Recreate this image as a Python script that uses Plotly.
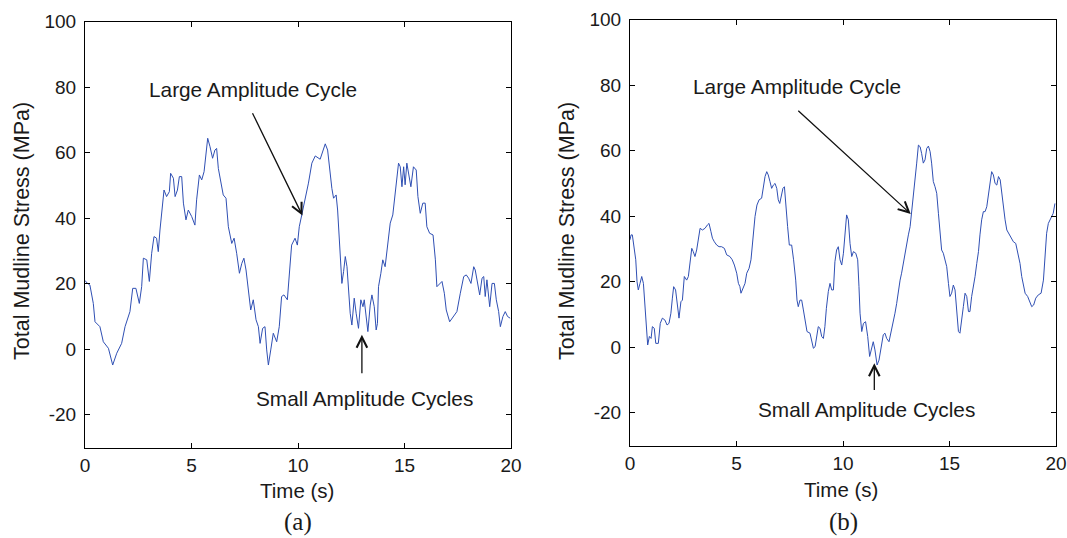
import plotly.graph_objects as go

# ---------------- data ----------------
time_a = [0.00, 0.10, 0.23, 0.39, 0.47, 0.70, 0.86, 1.10, 1.30, 1.49,
          1.72, 1.88, 2.11, 2.24, 2.39, 2.55, 2.66, 2.74, 2.90, 3.02,
          3.13, 3.24, 3.36, 3.44, 3.52, 3.65, 3.71, 3.83, 3.96, 4.02,
          4.15, 4.23, 4.34, 4.43, 4.54, 4.62, 4.74, 4.85, 5.01, 5.16,
          5.24, 5.37, 5.48, 5.59, 5.68, 5.76, 5.87, 5.99, 6.10, 6.18,
          6.26, 6.37, 6.49, 6.62, 6.73, 6.89, 7.00, 7.12, 7.25, 7.36,
          7.46, 7.56, 7.67, 7.78, 7.90, 8.03, 8.14, 8.22, 8.34, 8.45,
          8.53, 8.61, 8.72, 8.84, 9.00, 9.12, 9.23, 9.34, 9.50, 9.59,
          9.70, 9.86, 9.97, 10.06, 10.18, 10.34, 10.49, 10.65, 10.81, 11.04,
          11.20, 11.28, 11.39, 11.48, 11.59, 11.67, 11.79, 11.86, 11.95, 12.01,
          12.06, 12.14, 12.22, 12.30, 12.37, 12.45, 12.53, 12.64, 12.73, 12.84,
          12.95, 13.05, 13.11, 13.20, 13.28, 13.39, 13.47, 13.58, 13.67, 13.73,
          13.78, 13.89, 13.98, 14.09, 14.17, 14.25, 14.33, 14.45, 14.56, 14.64,
          14.72, 14.80, 14.88, 14.96, 15.03, 15.11, 15.19, 15.30, 15.42, 15.55,
          15.63, 15.74, 15.86, 15.97, 16.05, 16.18, 16.34, 16.45, 16.52, 16.65,
          16.76, 16.87, 16.96, 17.12, 17.31, 17.46, 17.62, 17.78, 17.90, 18.01,
          18.12, 18.25, 18.32, 18.40, 18.53, 18.64, 18.72, 18.79, 18.87, 19.00,
          19.11, 19.22, 19.31, 19.42, 19.50, 19.62, 19.73, 19.84, 19.96]

stress_a = [21.0, 20.2, 19.6, 14.0, 8.4, 6.9, 2.3, 0.3, -4.8, -1.2,
            1.8, 6.9, 11.5, 18.6, 18.6, 14.0, 19.1, 27.8, 27.3, 20.7,
            29.3, 34.4, 33.9, 29.8, 36.4, 43.5, 48.6, 46.6, 48.1, 53.7,
            52.2, 46.6, 48.6, 52.7, 52.7, 44.6, 39.5, 42.5, 40.5, 37.9,
            45.6, 53.2, 51.7, 54.2, 60.8, 64.4, 61.8, 58.3, 60.8, 61.3,
            55.2, 50.7, 47.1, 46.1, 37.4, 32.3, 33.9, 29.3, 23.2, 26.2,
            27.8, 24.2, 17.1, 12.0, 15.1, 9.0, 6.9, 1.8, 6.4, 6.9,
            -0.2, -4.8, -0.2, 4.9, 2.3, 6.9, 16.1, 16.6, 15.1, 22.2,
            31.8, 33.9, 31.8, 37.4, 41.0, 45.6, 50.7, 56.8, 59.0, 58.0,
            60.8, 62.7, 60.8, 55.2, 49.1, 46.1, 47.1, 42.5, 31.8, 23.2,
            20.1, 23.7, 28.3, 25.2, 18.1, 11.0, 7.4, 15.6, 11.0, 6.4,
            15.1, 13.0, 15.1, 9.0, 5.4, 13.5, 16.6, 13.0, 5.9, 7.9,
            19.1, 23.2, 27.3, 25.2, 29.3, 34.9, 38.5, 41.0, 47.6, 52.7,
            56.8, 55.7, 49.6, 55.7, 50.2, 56.8, 53.7, 49.6, 55.7, 54.7,
            46.6, 41.5, 44.6, 44.6, 37.4, 35.4, 34.9, 27.3, 19.1, 20.1,
            20.7, 17.1, 12.0, 8.4, 10.0, 11.5, 17.1, 22.2, 22.7, 21.7,
            20.1, 25.2, 24.2, 21.2, 16.6, 21.7, 22.2, 16.1, 21.2, 13.0,
            20.1, 20.1, 15.1, 11.5, 6.9, 10.0, 11.5, 10.0, 9.5]

time_b = [0.00, 0.05, 0.11, 0.20, 0.27, 0.33, 0.39, 0.47, 0.55, 0.63,
          0.70, 0.77, 0.83, 0.91, 0.99, 1.05, 1.14, 1.21, 1.33, 1.42,
          1.52, 1.64, 1.74, 1.83, 1.92, 1.99, 2.05, 2.14, 2.21, 2.30,
          2.39, 2.46, 2.55, 2.66, 2.74, 2.82, 2.90, 2.97, 3.05, 3.13,
          3.21, 3.29, 3.40, 3.52, 3.63, 3.71, 3.80, 3.87, 3.96, 4.07,
          4.18, 4.30, 4.43, 4.54, 4.69, 4.80, 4.90, 5.01, 5.09, 5.16,
          5.21, 5.32, 5.40, 5.48, 5.59, 5.68, 5.74, 5.81, 5.87, 5.96,
          6.06, 6.18, 6.26, 6.34, 6.42, 6.49, 6.57, 6.65, 6.73, 6.81,
          6.89, 6.96, 7.03, 7.09, 7.18, 7.25, 7.31, 7.40, 7.48, 7.59,
          7.68, 7.78, 7.84, 7.90, 7.98, 8.06, 8.14, 8.22, 8.31, 8.45,
          8.53, 8.61, 8.69, 8.76, 8.84, 8.92, 9.00, 9.08, 9.15, 9.22,
          9.31, 9.39, 9.47, 9.55, 9.62, 9.70, 9.78, 9.86, 9.94, 10.02,
          10.10, 10.17, 10.25, 10.33, 10.41, 10.49, 10.60, 10.69, 10.75, 10.80,
          10.88, 10.96, 11.06, 11.16, 11.25, 11.34, 11.42, 11.50, 11.60, 11.69,
          11.78, 11.89, 11.97, 12.05, 12.16, 12.25, 12.36, 12.44, 12.52, 12.60,
          12.68, 12.75, 12.83, 12.91, 12.99, 13.07, 13.15, 13.22, 13.30, 13.38,
          13.46, 13.54, 13.62, 13.69, 13.77, 13.85, 13.93, 14.01, 14.09, 14.16,
          14.24, 14.32, 14.40, 14.48, 14.55, 14.63, 14.71, 14.79, 14.87, 14.95,
          15.02, 15.10, 15.18, 15.26, 15.34, 15.42, 15.49, 15.57, 15.65, 15.73,
          15.81, 15.89, 15.96, 16.04, 16.12, 16.20, 16.28, 16.36, 16.43, 16.51,
          16.59, 16.67, 16.75, 16.83, 16.91, 16.98, 17.06, 17.14, 17.22, 17.30,
          17.38, 17.45, 17.53, 17.61, 17.69, 17.85, 18.00, 18.11, 18.20, 18.31,
          18.39, 18.47, 18.55, 18.67, 18.78, 18.86, 18.95, 19.05, 19.17, 19.30,
          19.41, 19.49, 19.56, 19.64, 19.72, 19.87, 19.95]

stress_b = [32.8, 34.3, 34.3, 30.7, 26.7, 20.0, 17.5, 19.5, 21.6, 19.5,
            11.9, 4.3, 0.7, 3.3, 2.7, 6.3, 5.8, 1.2, 1.2, 7.3,
            8.9, 8.3, 6.8, 7.3, 10.4, 15.0, 18.5, 17.5, 13.9, 8.9,
            13.9, 14.4, 21.6, 20.5, 21.6, 26.7, 30.2, 29.2, 27.7, 29.7,
            33.3, 36.3, 35.8, 36.3, 37.3, 37.8, 35.3, 33.3, 32.2, 31.2,
            30.7, 30.7, 30.2, 28.2, 27.7, 26.7, 25.1, 22.6, 19.5, 18.5,
            16.5, 18.0, 19.5, 22.6, 24.1, 26.7, 30.7, 35.8, 39.9, 43.4,
            45.0, 45.5, 49.5, 52.1, 53.6, 52.6, 50.6, 48.5, 49.5, 50.0,
            48.5, 45.0, 43.9, 45.5, 48.5, 49.0, 42.9, 36.8, 31.2, 31.2,
            26.7, 20.5, 14.4, 12.4, 14.4, 14.4, 11.4, 7.8, 4.8, 4.3,
            2.2, -0.3, 0.2, 2.7, 6.3, 5.8, 3.3, 2.7, 6.3, 11.9,
            17.0, 19.5, 17.5, 17.5, 26.1, 29.7, 30.7, 26.7, 25.1, 28.7,
            35.8, 40.4, 38.9, 31.7, 27.7, 29.2, 28.7, 26.7, 18.5, 10.4,
            4.8, 7.3, 7.8, 3.3, -2.8, -0.8, 1.7, -0.8, -5.4, -3.9,
            0.2, 3.8, 4.3, 2.7, 1.7, 4.3, 7.3, 10.4, 13.4, 17.5,
            20.5, 22.6, 25.6, 28.2, 32.2, 34.3, 36.8, 40.9, 46.0, 50.0,
            56.2, 61.7, 61.2, 59.2, 56.2, 57.2, 60.7, 61.4, 59.7, 56.2,
            50.6, 49.0, 47.0, 40.9, 34.8, 29.7, 28.7, 26.7, 24.6, 19.5,
            15.5, 16.5, 19.0, 17.5, 11.4, 4.8, 4.3, 9.4, 12.4, 16.5,
            15.5, 10.9, 10.9, 15.5, 18.0, 21.6, 25.6, 29.2, 34.3, 38.9,
            41.4, 41.4, 42.9, 47.0, 50.6, 53.6, 52.6, 50.0, 49.5, 52.1,
            51.1, 47.0, 41.9, 38.9, 35.8, 33.8, 32.2, 31.7, 28.7, 25.6,
            21.6, 18.5, 16.5, 15.5, 13.4, 12.4, 12.9, 15.0, 16.0, 16.5,
            20.5, 27.7, 34.8, 37.8, 38.9, 40.9, 43.9]

x_ticks = [0, 5, 10, 15, 20]
x_tick_text = ["0", "5", "10", "15", "20"]
y_ticks = [-20, 0, 20, 40, 60, 80, 100]
y_tick_text = ["-20", "0", "20", "40", "60", "80", "100"]
x_title = "Time (s)"
y_title = "Total Mudline Stress (MPa)"
panel_labels = ["(a)", "(b)"]
large_label = "Large Amplitude Cycle"
small_label = "Small Amplitude Cycles"

# ---------------- figure ----------------
W, H = 1067, 538
FONT = "Liberation Sans, Arial, sans-serif"
SERIF = "Liberation Serif, Times New Roman, serif"
TXT = "#1a1a1a"
LINE = "#2f4fb3"

fig = go.Figure()
fig.add_trace(go.Scatter(x=time_a, y=stress_a, mode="lines",
                         line=dict(color=LINE, width=1), xaxis="x", yaxis="y",
                         showlegend=False, hoverinfo="skip"))
fig.add_trace(go.Scatter(x=time_b, y=stress_b, mode="lines",
                         line=dict(color=LINE, width=1), xaxis="x2", yaxis="y2",
                         showlegend=False, hoverinfo="skip"))

def xaxis_style(domain, anchor):
    return dict(domain=domain, anchor=anchor, range=[0, 20],
                tickmode="array", tickvals=x_ticks, ticktext=x_tick_text,
                ticks="inside", ticklen=5, tickcolor="black", showline=True,
                linecolor="black", linewidth=1, mirror="ticks", showgrid=False,
                zeroline=False, automargin=False,
                tickfont=dict(family=FONT, size=19, color=TXT),
                ticklabelstandoff=1)

def yaxis_style(domain, anchor):
    return dict(domain=domain, anchor=anchor, range=[-30, 100],
                tickmode="array", tickvals=y_ticks, ticktext=y_tick_text,
                ticks="inside", ticklen=5, tickcolor="black", showline=True,
                linecolor="black", linewidth=1, mirror="ticks", showgrid=False,
                zeroline=False, automargin=False,
                tickfont=dict(family=FONT, size=19, color=TXT),
                ticklabelstandoff=4)

fig.update_layout(
    template="none",
    width=W, height=H, autosize=False,
    margin=dict(l=0, r=0, t=0, b=0, pad=0),
    paper_bgcolor="white", plot_bgcolor="white",
    xaxis=xaxis_style([85 / W, 511 / W], "y"),
    yaxis=yaxis_style([1 - 447.6 / H, 1 - 21.6 / H], "x"),
    xaxis2=xaxis_style([630 / W, 1056 / W], "y2"),
    yaxis2=yaxis_style([1 - 445.6 / H, 1 - 19.6 / H], "x2"),
)

ann = []
def txt(x, y, s, size=20, family=FONT, angle=0):
    ann.append(dict(x=x / W, y=1 - y / H, xref="paper", yref="paper", text=s,
                    showarrow=False, textangle=angle, xanchor="center", yanchor="middle",
                    font=dict(family=family, size=size, color=TXT)))

# axis titles
txt(22, 231, y_title, size=21.5, angle=-90)
txt(567, 231, y_title, size=21.5, angle=-90)
txt(297, 490, x_title, size=20.5)
txt(841, 489, x_title, size=20.5)
# panel labels
txt(298, 522, panel_labels[0], size=25, family=SERIF)
txt(843, 522, panel_labels[1], size=25, family=SERIF)

# callout texts (data coords)
for xr, yr, x, y, s in [("x", "y", 7.91, 79.2, large_label),
                        ("x", "y", 13.13, -14.9, small_label),
                        ("x2", "y2", 7.84, 79.6, large_label),
                        ("x2", "y2", 11.10, -19.0, small_label)]:
    ann.append(dict(x=x, y=y, xref=xr, yref=yr, text=s, showarrow=False,
                    font=dict(family=FONT, size=20.8, color=TXT)))

# arrows: head (x, y) <- tail (ax, ay)
for xr, yr, x, y, ax, ay in [("x", "y", 10.21, 40.8, 7.83, 72.5),
                             ("x", "y", 13.00, 4.4, 13.00, -7.8),
                             ("x2", "y2", 13.18, 40.7, 7.83, 72.6),
                             ("x2", "y2", 11.47, -4.9, 11.47, -13.5)]:
    ann.append(dict(x=x, y=y, xref=xr, yref=yr, ax=ax, ay=ay, axref=xr, ayref=yr,
                    text="", showarrow=True, arrowhead=5, arrowsize=1.6,
                    arrowwidth=1.3, arrowcolor="#111111", standoff=0))

fig.update_layout(annotations=ann)
fig.write_html("out.html")
